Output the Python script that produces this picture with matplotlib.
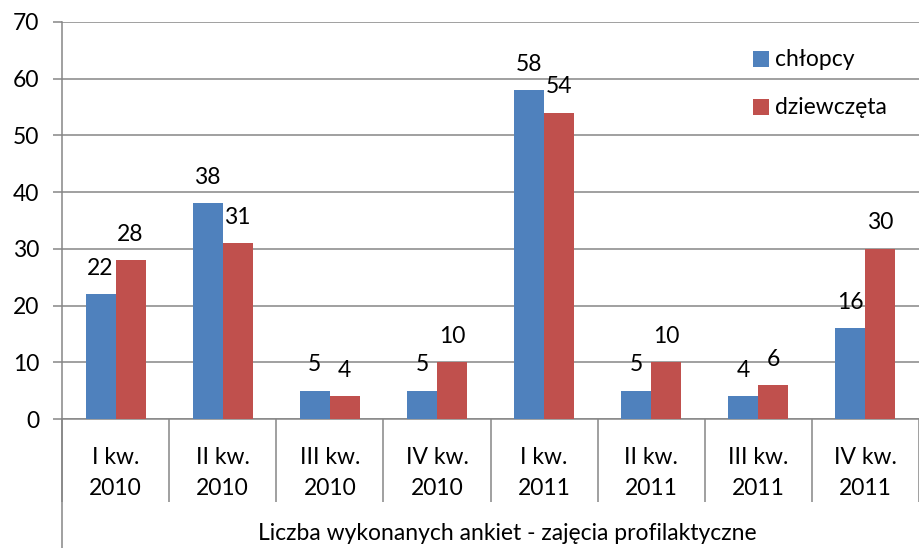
import matplotlib
matplotlib.use('Agg')
import matplotlib.pyplot as plt
from matplotlib.lines import Line2D
from matplotlib.patches import Rectangle

# dane z wykresu
kwartaly = ['I kw.\n2010', 'II kw.\n2010', 'III kw.\n2010', 'IV kw.\n2010',
            'I kw.\n2011', 'II kw.\n2011', 'III kw.\n2011', 'IV kw.\n2011']
chlopcy = [22, 38, 5, 5, 58, 5, 4, 16]
dziewczeta = [28, 31, 4, 10, 54, 10, 6, 30]
y_ticks = [0, 10, 20, 30, 40, 50, 60, 70]
serie = ['chłopcy', 'dziewczęta']
kolory = ['#4F81BD', '#C0504D']
tytul_osi = 'Liczba wykonanych ankiet - zajęcia profilaktyczne'

W, H = 919, 548
plt.rcParams['font.family'] = ['Lato', 'DejaVu Sans']
grid_color = '#868686'
fs = 16.5

fig = plt.figure(figsize=(W / 100, H / 100), dpi=100)
fig.set_facecolor('white')

# pozycja obszaru wykresu w pikselach
x0, x1 = 62, 919
y_top, y_zero = 22, 419
ax = fig.add_axes([x0 / W, 1 - y_zero / H, (x1 - x0) / W, (y_zero - y_top) / H])

n = len(kwartaly)
bw = 0.28
pos = [i + 0.5 for i in range(n)]
ax.bar([p - bw / 2 for p in pos], chlopcy, width=bw, color=kolory[0], zorder=3)
ax.bar([p + bw / 2 for p in pos], dziewczeta, width=bw, color=kolory[1], zorder=3)

# etykiety danych nad słupkami
for p, a, b in zip(pos, chlopcy, dziewczeta):
    ax.annotate(str(a), (p - bw / 2, a), xytext=(0, 14), textcoords='offset points',
                ha='center', va='baseline', fontsize=fs, zorder=4)
    ax.annotate(str(b), (p + bw / 2, b), xytext=(0, 14), textcoords='offset points',
                ha='center', va='baseline', fontsize=fs, zorder=4)

ax.set_xlim(0, n)
ax.set_ylim(0, 70)
ax.set_yticks(y_ticks)
ax.set_yticklabels([str(v) for v in y_ticks], fontsize=fs)
ax.tick_params(axis='y', length=6.5, width=1.1, color=grid_color, pad=10)

# podpisy kategorii w środku, separatory na granicach
ax.set_xticks(pos)
ax.set_xticklabels(kwartaly, fontsize=fs, linespacing=1.6)
ax.tick_params(axis='x', which='major', length=0, pad=20)
ax.set_xticks(range(n + 1), minor=True)
ax.tick_params(axis='x', which='minor', length=60, width=1.1, color=grid_color)

ax.grid(axis='y', color=grid_color, linewidth=1.1, zorder=0)
for s in ['top', 'right']:
    ax.spines[s].set_visible(False)
for s in ['left', 'bottom']:
    ax.spines[s].set_color(grid_color)
    ax.spines[s].set_linewidth(1.1)

# przedłużenie osi pionowej do dołu
fig.add_artist(Line2D([x0 / W, x0 / W], [0, 1 - y_zero / H], color=grid_color,
                      linewidth=1.1, transform=fig.transFigure))

# tytuł osi
fig.text(507 / W, 1 - 534 / H, tytul_osi, ha='center', va='center', fontsize=fs)

# legenda
for i, (nazwa, kol) in enumerate(zip(serie, kolory)):
    yc = 59 + i * 48
    fig.add_artist(Rectangle((753 / W, 1 - (yc + 8) / H), 16 / W, 16 / H,
                             facecolor=kol, edgecolor='none', transform=fig.transFigure))
    fig.text(775 / W, 1 - yc / H, nazwa, ha='left', va='center', fontsize=fs)

fig.savefig('out.png', dpi=100, facecolor='white')
